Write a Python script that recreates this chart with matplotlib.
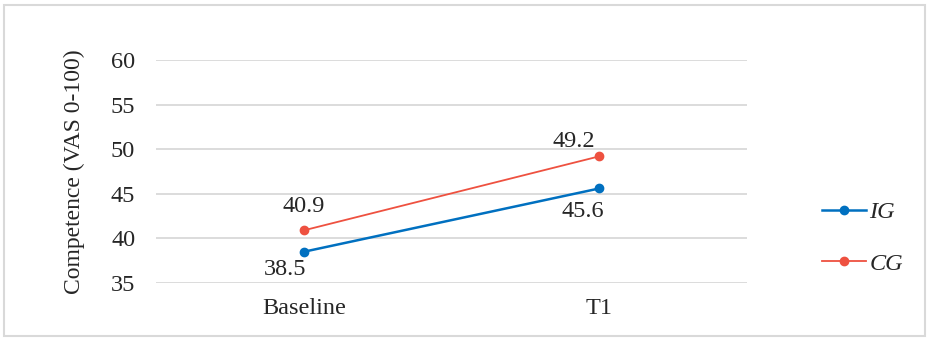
import matplotlib.pyplot as plt
from matplotlib.patches import Rectangle

# competence scores per group at each time point
timepoints = ["Baseline", "T1"]
ig_scores = [38.5, 45.6]
cg_scores = [40.9, 49.2]
y_ticks = [35, 40, 45, 50, 55, 60]

plt.rcParams['font.family'] = ['Liberation Serif', 'DejaVu Serif']
plt.rcParams['font.size'] = 17.5

fig = plt.figure(figsize=(9.29, 3.40), dpi=100)
ax = fig.add_axes([156 / 929, 57 / 340, 591 / 929, 223 / 340])

blue = "#0070C0"
red = "#EE5140"
x = range(len(timepoints))

ax.plot(x, ig_scores, color=blue, lw=1.8, marker="o", ms=6, label="IG", zorder=3)
ax.plot(x, cg_scores, color=red, lw=1.3, marker="o", ms=6, label="CG", zorder=3)

# value labels, nudged in pixels
ig_offsets = [(-19, -23), (-16, -29)]
cg_offsets = [(0, 18), (-25, 9)]
for vals, offs in ((ig_scores, ig_offsets), (cg_scores, cg_offsets)):
    for i, v in enumerate(vals):
        ax.annotate(f"{v:.1f}", (i, v), xytext=offs[i], textcoords="offset pixels",
                    ha="center", va="baseline", color="#262626")

ax.set_xlim(-0.5, 1.5)
ax.set_ylim(35, 60)
ax.set_xticks(list(x))
ax.set_xticklabels(timepoints)
ax.set_yticks(y_ticks)
ax.tick_params(length=0, colors="#262626")
ax.tick_params(axis="y", pad=15)
ax.tick_params(axis="x", pad=11)
ax.grid(axis="y", color="#D9D9D9", lw=1.3)
ax.set_axisbelow(True)
for s in ax.spines.values():
    s.set_visible(False)

ax.set_ylabel("Competence (VAS 0-100)", color="#262626", fontsize=17)
ax.yaxis.set_label_coords(-0.12, 0.5)

leg = ax.legend(loc="center left", bbox_to_anchor=(822 / 929, 102 / 340),
                bbox_transform=fig.transFigure, frameon=False, borderpad=0,
                borderaxespad=0, handlelength=1.8, handletextpad=0.15,
                labelspacing=1.2, prop={"style": "italic", "size": 17.5})
for t in leg.get_texts():
    t.set_color("#262626")

fig.patches.append(Rectangle((4 / 929, 4 / 340), 921 / 929, 331 / 340,
                             transform=fig.transFigure, fill=False,
                             edgecolor="#D9D9D9", lw=1.5))

plt.savefig("out.png", dpi=100)
